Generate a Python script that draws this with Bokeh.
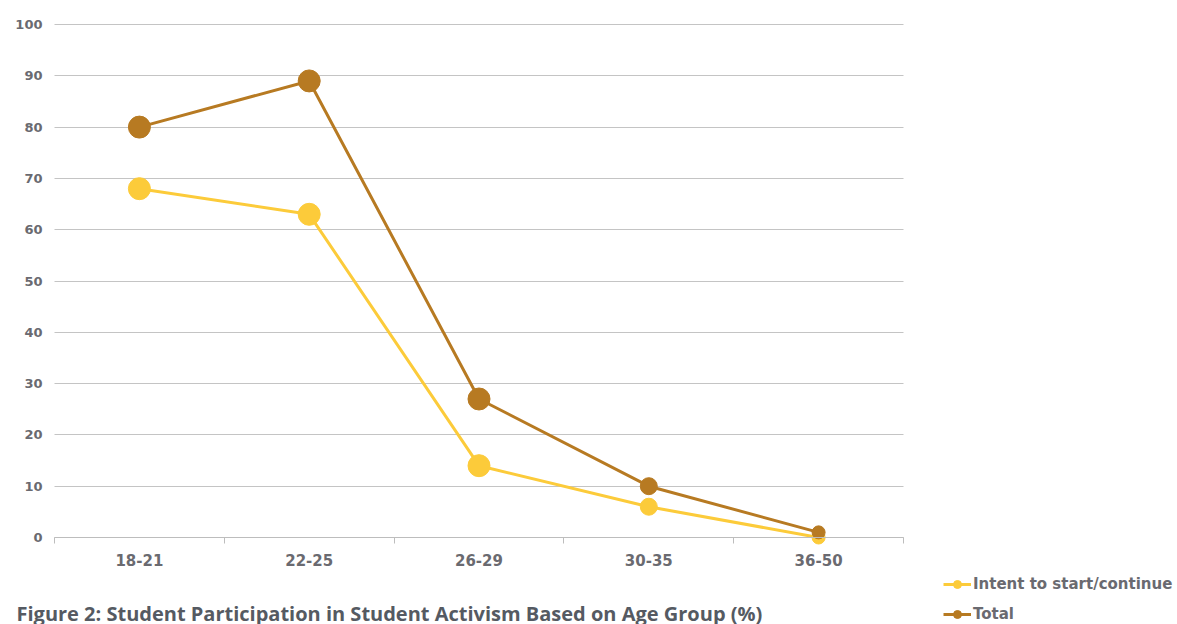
from bokeh.plotting import figure
from bokeh.models import FixedTicker, Legend, LegendItem, Label, LinearAxis, Grid
from bokeh.embed import file_html
from bokeh.resources import INLINE

categories = ["18-21", "22-25", "26-29", "30-35", "36-50"]
intent = [68, 63, 14, 6, 0]
total = [80, 89, 27, 10, 1]
y_ticks = [0, 10, 20, 30, 40, 50, 60, 70, 80, 90, 100]

marker_sizes = [22, 22, 22, 17, 13]
BROWN = "#B77A22"
YELLOW = "#FCCB3A"
TEXT = "#6a6a70"
FONT = "DejaVu Sans"

W, H = 1177, 624
# plot area in canvas pixels (frame spans the whole canvas)
PL, PR, PT, PB = 54, 903, 24, 537
n = len(categories)
xu = (PR - PL) / n
yu = (PB - PT) / 100.0

xs = [i + 0.5 for i in range(n)]

p = figure(width=W, height=H, output_backend="svg", toolbar_location=None,
           x_range=(-PL / xu, (W - PL) / xu), y_range=(-(H - PB) / yu, 100 + PT / yu),
           x_axis_location=None, y_axis_location=None, min_border=0)
p.outline_line_color = None
p.background_fill_color = "white"
p.border_fill_color = "white"
p.xgrid.visible = False
p.ygrid.visible = False

grid = Grid(dimension=1, ticker=FixedTicker(ticks=y_ticks), cross_bounds=(0, n),
            grid_line_color="#c4c4c4", grid_line_width=1)
p.add_layout(grid)

xaxis = LinearAxis(fixed_location=0, bounds=(0, n),
                   ticker=FixedTicker(ticks=xs, minor_ticks=list(range(n + 1))))
xaxis.major_label_overrides = {x: c for x, c in zip(xs, categories)}
xaxis.major_tick_line_color = None
xaxis.minor_tick_line_color = "#bdbdbd"
xaxis.minor_tick_out = 6
xaxis.minor_tick_in = 0
xaxis.axis_line_color = "#bdbdbd"
xaxis.axis_line_width = 1
xaxis.major_label_text_font = FONT
xaxis.major_label_text_font_style = "bold"
xaxis.major_label_text_font_size = "15px"
xaxis.major_label_text_color = TEXT
xaxis.major_label_standoff = 10
p.add_layout(xaxis, "below")

yaxis = LinearAxis(fixed_location=0, ticker=FixedTicker(ticks=y_ticks))
yaxis.axis_line_color = None
yaxis.major_tick_line_color = None
yaxis.minor_tick_line_color = None
yaxis.major_label_text_font = FONT
yaxis.major_label_text_font_style = "bold"
yaxis.major_label_text_font_size = "13px"
yaxis.major_label_text_color = TEXT
yaxis.major_label_standoff = 6
p.add_layout(yaxis, "left")

p.line(xs, intent, line_color=YELLOW, line_width=3)
p.scatter(xs, intent, size=marker_sizes, fill_color=YELLOW, line_color=YELLOW)
p.line(xs, total, line_color=BROWN, line_width=3)
p.scatter(xs, total, size=marker_sizes, fill_color=BROWN, line_color=BROWN)

# legend glyph proxies
lg1 = p.line([0], [0], line_color=YELLOW, line_width=3, visible=False)
lg1s = p.scatter([0], [0], size=8, fill_color=YELLOW, line_color=YELLOW, visible=False)
lg2 = p.line([0], [0], line_color=BROWN, line_width=3, visible=False)
lg2s = p.scatter([0], [0], size=8, fill_color=BROWN, line_color=BROWN, visible=False)

legend = Legend(items=[
    LegendItem(label="Intent to start/continue", renderers=[lg1, lg1s]),
    LegendItem(label="Total", renderers=[lg2, lg2s]),
], location=(943, 0))
legend.label_text_font = FONT
legend.label_text_font_style = "bold"
legend.label_text_font_size = "15px"
legend.label_text_color = TEXT
legend.glyph_width = 28
legend.glyph_height = 20
legend.label_height = 20
legend.spacing = 10
legend.label_standoff = 2
legend.border_line_color = None
legend.background_fill_alpha = 0
legend.padding = 0
legend.margin = 0
p.add_layout(legend)

title = Label(x=16, y=11, x_units="screen", y_units="screen", text_baseline="alphabetic",
              text="Figure 2: Student Participation in Student Activism Based on Age Group (%)",
              text_font="Open Sans", text_font_style="bold", text_font_size="20px",
              text_color="#555a62")
p.add_layout(title)

open("out.html", "w").write(file_html(p, INLINE))
